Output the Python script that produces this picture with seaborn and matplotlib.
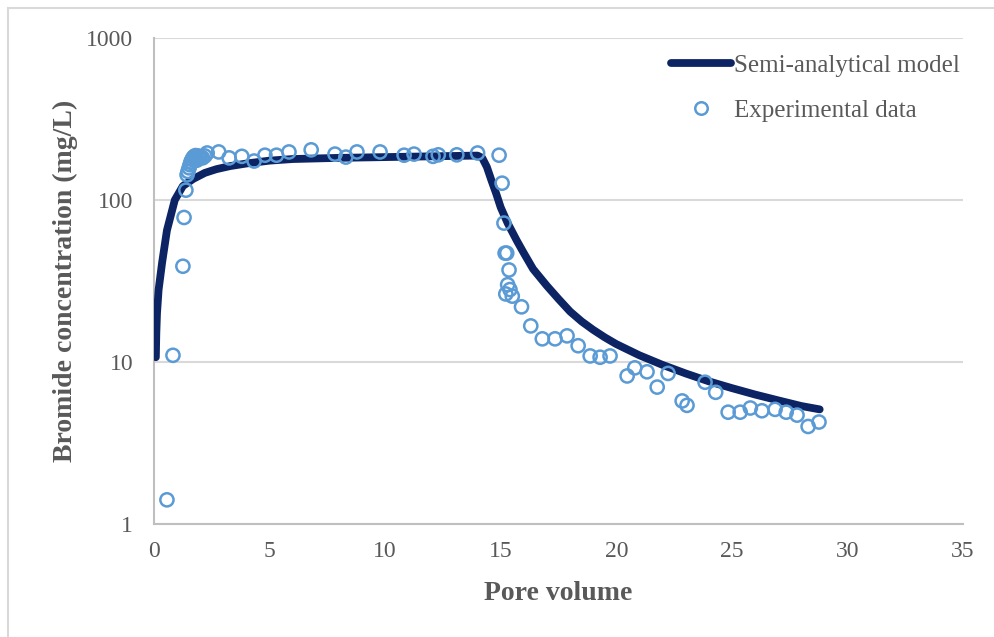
import matplotlib
matplotlib.use("Agg")
import matplotlib.pyplot as plt
from matplotlib.lines import Line2D
import seaborn as sns
import pandas as pd

# Semi-analytical model curve (pore volume, bromide concentration in mg/L)
model_pv = [0.08, 0.10, 0.13, 0.20, 0.35, 0.56, 0.90, 1.25, 1.70, 2.2, 2.7, 3.3, 4.0, 5.0,
            6.0, 8.0, 10.0, 12.0, 14.0, 14.2, 14.4, 14.6, 14.8, 15.0, 15.3, 15.7, 16.0,
            16.4, 17.0, 17.5, 18.0, 18.5, 19.0, 19.5, 20.0, 21.0, 22.0, 23.0, 24.0, 25.0,
            26.0, 27.0, 28.0, 28.8]
model_conc = [10.7, 15.0, 20.0, 28.0, 41.0, 65.0, 100.0, 122.0, 135.0, 147.0, 155.0, 162.0,
              168.0, 175.0, 179.0, 182.0, 184.0, 186.0, 188.0, 182.0, 160.0, 132.0, 110.0,
              90.0, 72.0, 56.0, 47.0, 37.5, 29.5, 24.5, 20.5, 17.8, 15.8, 14.2, 12.9, 11.0,
              9.6, 8.5, 7.6, 6.9, 6.3, 5.8, 5.35, 5.1]

# Experimental breakthrough data
exp_pv = [0.56, 0.82, 1.25, 1.30, 1.38, 1.43, 1.47, 1.52, 1.56, 1.60, 1.65, 1.70, 1.75,
          1.80, 1.85, 1.90, 1.95, 2.00, 2.10, 2.20, 2.30, 2.80, 3.25, 3.80, 4.33, 4.80,
          5.30, 5.84, 6.80, 7.83, 8.30, 8.78, 9.78, 10.82, 11.25, 12.07, 12.30, 13.10,
          14.00, 14.93, 15.06, 15.14, 15.19, 15.26, 15.36, 15.30, 15.40, 15.22, 15.50,
          15.90, 16.30, 16.80, 17.35, 17.87, 18.35, 18.87, 19.30, 19.73, 20.47, 20.80,
          21.33, 21.77, 22.24, 22.85, 23.06, 23.84, 24.30, 24.84, 25.36, 25.80, 26.30,
          26.87, 27.35, 27.82, 28.30, 28.77]
exp_conc = [1.41, 11.0, 39.0, 78.0, 115.0, 143.0, 150.0, 158.0, 165.0, 172.0, 178.0, 183.0,
            186.0, 188.0, 176.0, 187.0, 181.0, 185.0, 182.0, 187.0, 195.0, 198.0, 182.0,
            186.0, 174.0, 189.0, 189.0, 198.0, 204.0, 192.0, 184.0, 198.0, 198.0, 189.0,
            192.0, 186.0, 190.0, 190.0, 195.0, 189.0, 127.0, 72.0, 47.0, 47.0, 37.0, 30.0,
            28.0, 26.3, 25.5, 21.9, 16.7, 13.9, 13.9, 14.5, 12.6, 10.9, 10.7, 10.9, 8.2,
            9.2, 8.7, 7.0, 8.5, 5.75, 5.4, 7.5, 6.5, 4.9, 4.9, 5.2, 5.0, 5.1, 4.9, 4.7,
            4.0, 4.26]

x_ticks = [0, 5, 10, 15, 20, 25, 30, 35]
y_ticks = [1, 10, 100, 1000]
y_tick_labels = ["1", "10", "100", "1000"]

model_df = pd.DataFrame({"pv": model_pv, "conc": model_conc})
exp_df = pd.DataFrame({"pv": exp_pv, "conc": exp_conc})

sns.set_theme(style="white")
plt.rcParams["font.family"] = ["Liberation Serif", "DejaVu Serif"]

LINE_COLOR = "#0C2463"
MARKER_COLOR = "#5B9BD5"
TEXT_GRAY = "#595959"
GRID_GRAY = "#D9D9D9"

fig = plt.figure(figsize=(9.95, 6.37), dpi=100)
ax = fig.add_axes([154 / 995, 1 - 524 / 637, (963 - 154) / 995, (524 - 38) / 637])

sns.lineplot(data=model_df, x="pv", y="conc", ax=ax, color=LINE_COLOR, linewidth=5.6,
             solid_capstyle="round", sort=False, zorder=3)
sns.scatterplot(data=exp_df, x="pv", y="conc", ax=ax, s=90, marker="o",
                facecolor="none", edgecolor=MARKER_COLOR, linewidth=1.8, zorder=4)

ax.set_yscale("log")
ax.set_xlim(0, 35)
ax.set_ylim(1, 1000)
ax.set_xticks(x_ticks)
ax.set_xticklabels([str(t) for t in x_ticks])
ax.set_yticks(y_ticks)
ax.set_yticklabels(y_tick_labels)
ax.yaxis.set_minor_locator(matplotlib.ticker.NullLocator())
ax.tick_params(axis="both", labelsize=17, colors=TEXT_GRAY, length=0)
ax.tick_params(axis="x", pad=12)
ax.tick_params(axis="y", pad=15)

ax.grid(axis="y", color=GRID_GRAY, linewidth=1.5)
ax.grid(axis="x", visible=False)
ax.set_axisbelow(True)
for side in ["right", "top"]:
    ax.spines[side].set_visible(False)
for side in ["left", "bottom"]:
    ax.spines[side].set_color("#BFBFBF")
    ax.spines[side].set_linewidth(1.5)

ax.set_xlabel("Pore volume", fontsize=20, fontweight="bold", color=TEXT_GRAY, labelpad=14)
ax.set_ylabel("Bromide concentration (mg/L)", fontsize=20, fontweight="bold",
              color=TEXT_GRAY, labelpad=6)

handles = [
    Line2D([0], [0], color=LINE_COLOR, linewidth=5.6, solid_capstyle="round"),
    Line2D([0], [0], marker="o", linestyle="none", markersize=9,
           markerfacecolor="none", markeredgecolor=MARKER_COLOR, markeredgewidth=1.8),
]
ax.legend(handles, ["Semi-analytical model", "Experimental data"],
          loc="upper left", bbox_to_anchor=(0.611, 1.012), frameon=False,
          fontsize=18, labelcolor=TEXT_GRAY, handlelength=2.4, handletextpad=0.12,
          labelspacing=0.9)

# chart-area border along the left and top edges
fig.add_artist(Line2D([8 / 995, 8 / 995], [0, 1 - 8 / 637], color="#D9D9D9", linewidth=1.5,
                      transform=fig.transFigure))
fig.add_artist(Line2D([8 / 995, 1], [1 - 8 / 637, 1 - 8 / 637], color="#D9D9D9",
                      linewidth=1.5, transform=fig.transFigure))

fig.savefig("out.png", dpi=100, facecolor="white")
